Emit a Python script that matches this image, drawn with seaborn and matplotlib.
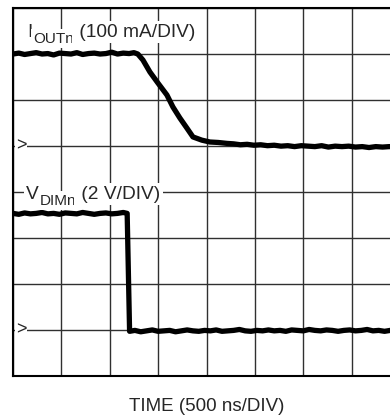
import matplotlib
matplotlib.use("Agg")
import matplotlib.pyplot as plt
import seaborn as sns
import pandas as pd

# time axis in ns (500 ns/DIV), levels in divisions from the bottom of the screen
iout_t = [0, 60, 120, 180, 240, 300, 360, 420, 480, 540, 600, 660, 720, 780, 840, 900,
          960, 1020, 1080, 1140, 1200, 1250, 1290,
          1343, 1415, 1498, 1591, 1653, 1725, 1798, 1860, 1952, 2035, 2120, 2211,
          2280, 2350, 2420, 2490, 2560, 2630, 2700, 2770, 2840, 2910, 2980, 3050, 3120,
          3190, 3260, 3330, 3400, 3470, 3540, 3610, 3680, 3750, 3820, 3890, 3960, 4000]
iout_div = [6.99, 7.01, 6.98, 7.00, 7.02, 6.99, 7.00, 6.97,
            7.01, 7.00, 6.99, 7.02, 6.98, 7.00, 7.01, 6.99,
            7.00, 7.03, 6.99, 7.01, 7.00, 7.02, 6.99,
            6.86, 6.60, 6.36, 6.10, 5.84, 5.60, 5.38, 5.19, 5.12, 5.08, 5.07, 5.05,
            5.04, 5.02, 5.03, 5.01, 5.02, 5.00, 5.01, 4.99,
            5.00, 4.98, 5.00, 4.99, 4.98, 5.00, 4.97, 4.99,
            4.98, 4.99, 4.97, 4.98, 4.96, 4.98, 4.97, 4.98,
            4.97, 4.97]

vdim_t = [0, 60, 120, 180, 240, 300, 360, 420, 480, 540, 600, 660, 720, 780, 840, 900,
          960, 1020, 1080, 1140, 1180, 1205,
          1260, 1320, 1380, 1440, 1500, 1560, 1620, 1680, 1740, 1800, 1860, 1920, 1980,
          2040, 2100, 2160, 2220, 2280, 2340, 2400, 2460, 2520, 2580, 2640, 2700, 2760,
          2820, 2880, 2940, 3000, 3060, 3120, 3180, 3240, 3300, 3360, 3420, 3480, 3540,
          3600, 3660, 3720, 3780, 3840, 3900, 3960, 4000]
vdim_div = [3.53, 3.51, 3.54, 3.52, 3.53, 3.55, 3.52, 3.53,
            3.51, 3.54, 3.53, 3.52, 3.55, 3.53, 3.51, 3.53,
            3.54, 3.52, 3.53, 3.55, 3.53,
            0.97, 0.99, 0.96, 0.98, 1.00, 0.97, 0.98, 0.99,
            0.96, 0.98, 1.00, 0.98, 0.97, 0.99, 0.98, 1.00,
            0.97, 0.98, 0.99, 1.01, 0.98, 0.97, 0.99, 0.98,
            1.00, 0.98, 0.99, 0.97, 1.00, 0.99, 0.98, 1.01,
            0.99, 0.98, 1.00, 0.99, 0.97, 0.99, 1.00, 0.98,
            0.99, 1.01, 0.98, 0.99, 0.97, 0.99, 0.98, 0.99]

ref_levels = [5.0, 1.0]  # channel ground markers ">"

sns.set_style("white")
plt.rcParams["font.family"] = ["Liberation Sans", "DejaVu Sans"]

df_i = pd.DataFrame({"t": iout_t, "v": iout_div})
df_v = pd.DataFrame({"t": vdim_t, "v": vdim_div})

fig = plt.figure(figsize=(3.9, 4.16), dpi=100)
# screen runs a bit past the right edge of the picture
ax = fig.add_axes([13 / 390, 40 / 416, 387 / 390, 368.5 / 416])

sns.lineplot(data=df_i, x="t", y="v", ax=ax, color="black", lw=3.8,
             estimator=None, sort=False)
sns.lineplot(data=df_v, x="t", y="v", ax=ax, color="black", lw=3.8,
             estimator=None, sort=False)

ax.set_xlim(0, 4000)
ax.set_ylim(0, 8)
ax.set_xticks(range(0, 4001, 500))
ax.set_yticks(range(0, 9))
ax.set_xticklabels([])
ax.set_yticklabels([])
ax.tick_params(length=0)
ax.set_axisbelow(True)
ax.grid(True, color="#303030", lw=1.0)
for s in ax.spines.values():
    s.set_color("black")
    s.set_linewidth(1.5)

ax.set_ylabel("")
ax.set_xlabel("TIME (500 ns/DIV)", fontsize=13.5, labelpad=12)


def channel_label(x, y, main, sub, rest):
    # main letter, larger-than-mathtext subscript, then the scale text
    box = dict(facecolor="white", edgecolor="none", pad=2.0)
    t1 = ax.text(x, y, main, fontsize=13.8, va="baseline", ha="left", bbox=box)
    t2 = ax.annotate(sub, xy=(1, 0), xycoords=t1, xytext=(0.5, -1.5),
                     textcoords="offset points", fontsize=11, va="baseline",
                     ha="left", bbox=box)
    ax.annotate(rest, xy=(1, 0), xycoords=(t2, t1), xytext=(0, 0),
                textcoords="offset points", fontsize=13.8, va="bottom",
                ha="left", bbox=box)


fig.canvas.draw()
channel_label(150, 7.37, "I", "OUTn", " (100 mA/DIV)")
channel_label(138, 3.85, "V", "DIMn", " (2 V/DIV)")

for lv in ref_levels:
    ax.text(28, lv, ">", fontsize=13, va="center", ha="left",
            bbox=dict(facecolor="white", edgecolor="none", pad=0.8))

fig.savefig("out.png", dpi=100)
